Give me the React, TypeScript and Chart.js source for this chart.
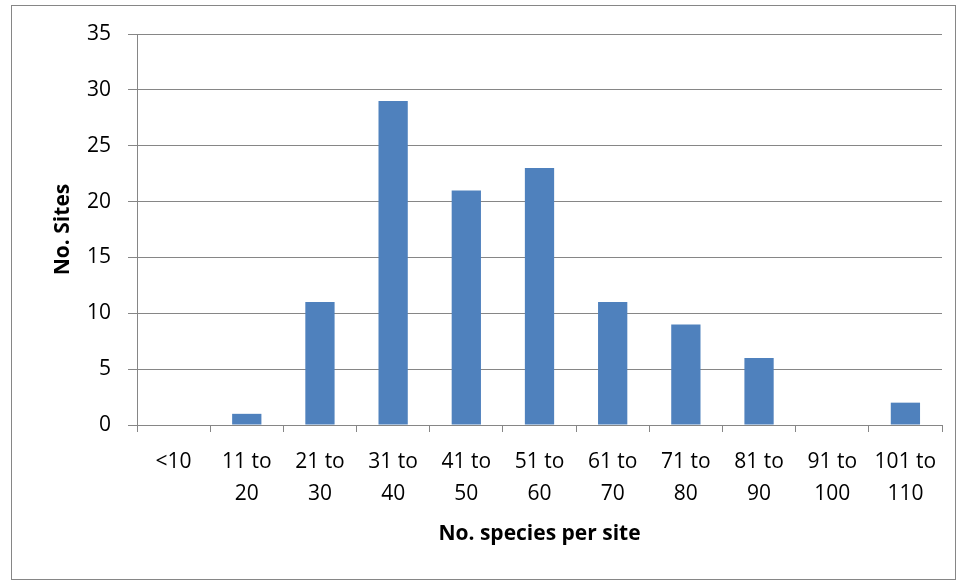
import React, { useEffect, useRef } from "react";
import { Chart, registerables } from "chart.js";

Chart.register(...registerables);

const categories: string[][] = [
  ["<10"],
  ["11 to", "20"],
  ["21 to", "30"],
  ["31 to", "40"],
  ["41 to", "50"],
  ["51 to", "60"],
  ["61 to", "70"],
  ["71 to", "80"],
  ["81 to", "90"],
  ["91 to", "100"],
  ["101 to", "110"],
];
const siteCounts: number[] = [0, 1, 11, 29, 21, 23, 11, 9, 6, 0, 2];
const yTicks = { min: 0, max: 35, step: 5 };

const FONT = "'Open Sans', 'DejaVu Sans', sans-serif";
const GRID = "#868686";

export default function App() {
  const ref = useRef<HTMLCanvasElement | null>(null);
  useEffect(() => {
    if (!ref.current) return;
    const chart = new Chart(ref.current, {
      type: "bar",
      data: {
        labels: categories,
        datasets: [
          {
            data: siteCounts,
            backgroundColor: "#4F81BD",
            barPercentage: 0.4,
            categoryPercentage: 1,
          },
        ],
      },
      options: {
        animation: false,
        responsive: false,
        maintainAspectRatio: false,
        layout: { padding: { top: 34, right: 21, left: 50, bottom: 34 } },
        plugins: { legend: { display: false }, tooltip: { enabled: false } },
        scales: {
          x: {
            grid: {
              display: true,
              drawOnChartArea: false,
              drawTicks: true,
              tickLength: 7,
              color: GRID,
              offset: true,
            },
            border: { display: true, color: GRID, width: 1 },
            ticks: {
              color: "#000",
              font: { family: FONT, size: 21, lineHeight: 1.52 },
              padding: 14,
              maxRotation: 0,
              minRotation: 0,
              autoSkip: false,
            },
            title: {
              display: true,
              text: "No. species per site",
              color: "#000",
              font: { family: FONT, size: 21, weight: "bold" },
              padding: { top: 0, bottom: 0 },
            },
            afterFit: (s: any) => {
              s.height = 122;
            },
          },
          y: {
            min: yTicks.min,
            max: yTicks.max,
            ticks: {
              stepSize: yTicks.step,
              color: "#000",
              font: { family: FONT, size: 21 },
              padding: 17,
            },
            grid: {
              color: GRID,
              drawTicks: true,
              tickLength: 9,
            },
            border: { display: true, color: GRID, width: 1 },
            title: {
              display: true,
              text: "No. Sites",
              color: "#000",
              font: { family: FONT, size: 21, weight: "bold" },
              padding: { top: 0, bottom: 0 },
            },
            afterFit: (s: any) => {
              s.width = 87;
            },
          },
        },
      },
    });
    return () => chart.destroy();
  }, []);
  return (
    <div style={{ position: "fixed", left: 0, top: 0, width: 963, height: 581, background: "#fff" }}>
      <div
        style={{
          position: "absolute",
          left: 11,
          top: 5,
          width: 943,
          height: 573,
          border: "1.5px solid #868686",
        }}
      />
      <canvas ref={ref} width={963} height={581} style={{ position: "absolute", left: 0, top: 0 }} />
    </div>
  );
}
